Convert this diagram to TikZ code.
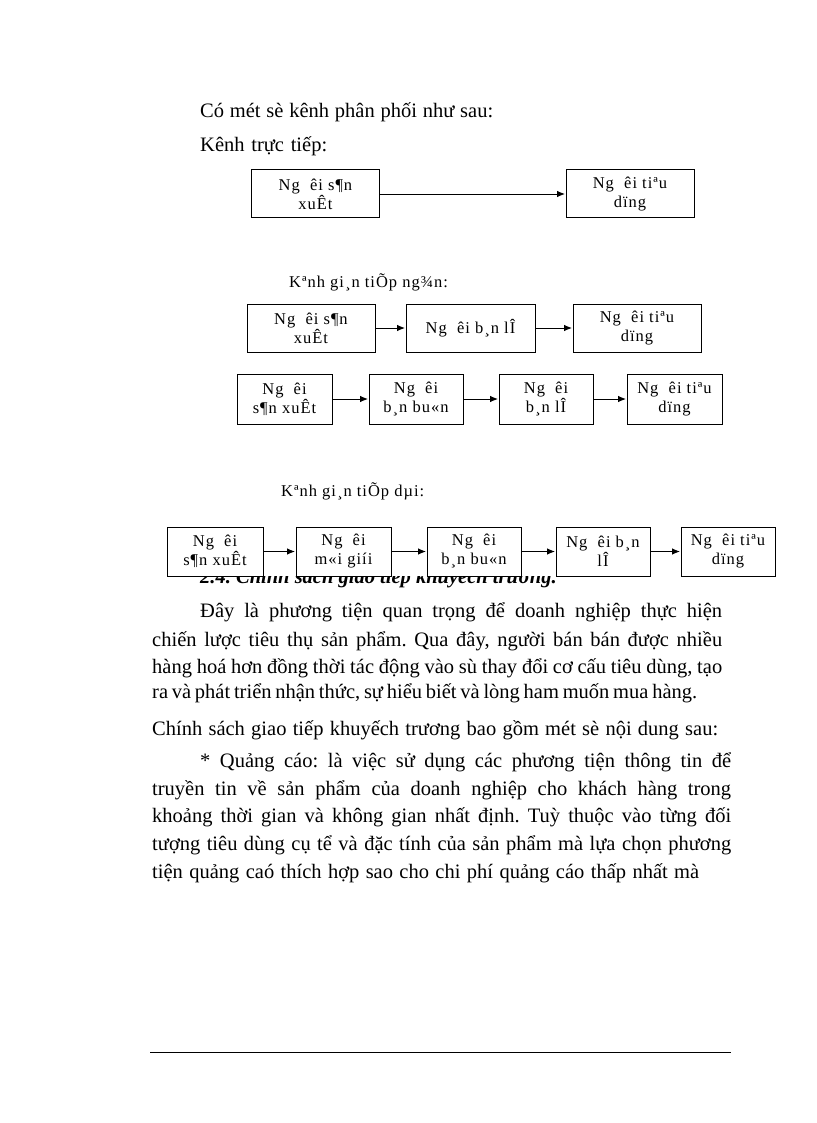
\documentclass[tikz,border=0pt]{standalone}
\usepackage{fontspec}
\setmainfont{Liberation Serif}
\newfontfamily\vnfont[LetterSpace=6]{Liberation Serif}
\usepackage{tikz}
\usetikzlibrary{arrows.meta,positioning}

\newcommand{\bodyfont}{\fontsize{20.5}{24}\selectfont}
\newcommand{\boxfont}{\vnfont\fontsize{16.5}{19}\selectfont}
\newcommand{\jline}[2]{\makebox[#1pt][s]{#2}}
\frenchspacing

\begin{document}
\begin{tikzpicture}[
    x=1pt, y=-1pt,
    >=Latex,
    chan/.style={draw, line width=1pt, fill=white, inner sep=0pt,
                 minimum height=48pt, align=center, font=\boxfont},
    arrow/.style={->, line width=0.9pt, shorten >=0.5pt,
                  >={Latex[length=8pt,width=6.5pt]}},
    txt/.style={anchor=base west, inner sep=0pt, font=\bodyfont},
    lbl/.style={anchor=base west, inner sep=0pt, font=\boxfont},
  ]
  \useasboundingbox (0,0) rectangle (816,1123);

  % Intro lines
  \node[txt] (intro) at (200,118) {\jline{293}{Có mét sè kênh phân phối như sau:}};
  \node[txt] (direct) at (200,152) {\jline{127}{Kênh trực tiếp:}};

  % Direct channel
  \node[chan, minimum width=128pt] (dprod) at (315.5,194)
    {Ng~ êi s¶n\\xuÊt};
  \node[chan, minimum width=128pt] (dcons) at (630,194)
    {Ng~ êi tiªu\\dïng};
  \draw[arrow] (dprod) -- (dcons);

  % Short indirect channel
  \node[lbl] (short) at (289,287) {Kªnh gi¸n tiÕp ng¾n:};
  \node[chan, minimum width=128pt] (sprod) at (311,328)
    {Ng~ êi s¶n\\xuÊt};
  \node[chan, minimum width=129pt] (sret) at (470.5,328)
    {Ng~ êi b¸n lÎ};
  \node[chan, minimum width=128pt] (scons) at (637,328)
    {Ng~ êi tiªu\\dïng};
  \draw[arrow] (sprod) -- (sret);
  \draw[arrow] (sret) -- (scons);

  \node[chan, minimum width=95pt, minimum height=50pt] (mprod) at (284.5,399)
    {Ng~ êi\\s¶n xuÊt};
  \node[chan, minimum width=94pt, minimum height=50pt] (mwhole) at (416,399)
    {Ng~ êi\\b¸n bu«n};
  \node[chan, minimum width=94pt, minimum height=50pt] (mret) at (546,399)
    {Ng~ êi\\b¸n lÎ};
  \node[chan, minimum width=95pt, minimum height=50pt] (mcons) at (674.5,399)
    {Ng~ êi tiªu\\dïng};
  \draw[arrow] (mprod) -- (mwhole);
  \draw[arrow] (mwhole) -- (mret);
  \draw[arrow] (mret) -- (mcons);

  % Section heading, half hidden under the diagram
  \node[txt, font=\bodyfont\bfseries\itshape] (head) at (200,583)
    {2.4. Chính sách giao tiếp khuyếch trương.};
  \fill[white] (160,470) rectangle (785,576);

  % Long indirect channel
  \node[lbl] (long) at (281,496) {Kªnh gi¸n tiÕp dµi:};
  \node[chan, minimum width=96pt, minimum height=49pt] (lprod) at (215,551.5)
    {Ng~ êi\\s¶n xuÊt};
  \node[chan, minimum width=95pt, minimum height=49pt] (lbroker) at (343.5,551.5)
    {Ng~ êi\\m«i giíi};
  \node[chan, minimum width=94pt, minimum height=49pt] (lwhole) at (474,551.5)
    {Ng~ êi\\b¸n bu«n};
  \node[chan, minimum width=94pt, minimum height=49pt] (lret) at (603,551.5)
    {Ng~ êi b¸n\\lÎ};
  \node[chan, minimum width=94pt, minimum height=49pt] (lcons) at (728,551.5)
    {Ng~ êi tiªu\\dïng};
  \draw[arrow] (lprod) -- (lbroker);
  \draw[arrow] (lbroker) -- (lwhole);
  \draw[arrow] (lwhole) -- (lret);
  \draw[arrow] (lret) -- (lcons);

  % Body text
  \node[txt] (p1) at (200,617)
    {\jline{522}{Đây là phương tiện quan trọng để doanh nghiệp thực hiện}};
  \node[txt] (p2) at (152,646)
    {\jline{570}{chiến lược tiêu thụ sản phẩm. Qua đây, người bán bán được nhiều}};
  \node[txt] (p3) at (152,673)
    {\jline{570}{hàng hoá hơn đồng thời tác động vào sù thay đổi cơ cấu tiêu dùng, tạo}};
  \node[txt] (p4) at (152,698)
    {\jline{545}{ra và phát triển nhận thức, sự hiểu biết và lòng ham muốn mua hàng.}};
  \node[txt] (p5) at (152,735)
    {\jline{566}{Chính sách giao tiếp khuyếch trương bao gồm mét sè nội dung sau:}};
  \node[txt] (p6) at (200,767)
    {\jline{531}{* Quảng cáo: là việc sử dụng các phương tiện thông tin để}};
  \node[txt] (p7) at (152,795)
    {\jline{579}{truyền tin về sản phẩm của doanh nghiệp cho khách hàng trong}};
  \node[txt] (p8) at (152,822)
    {\jline{579}{khoảng thời gian và không gian nhất định. Tuỳ thuộc vào từng đối}};
  \node[txt] (p9) at (152,850)
    {\jline{579}{tượng tiêu dùng cụ tể và đặc tính của sản phẩm mà lựa chọn phương}};
  \node[txt] (p10) at (152,878)
    {\jline{547}{tiện quảng caó thích hợp sao cho chi phí quảng cáo thấp nhất mà}};

  % Footer rule
  \coordinate (rulea) at (150,1052);
  \coordinate (ruleb) at (731,1052);
  \draw[line width=1pt] (rulea) -- (ruleb);
\end{tikzpicture}
\end{document}
